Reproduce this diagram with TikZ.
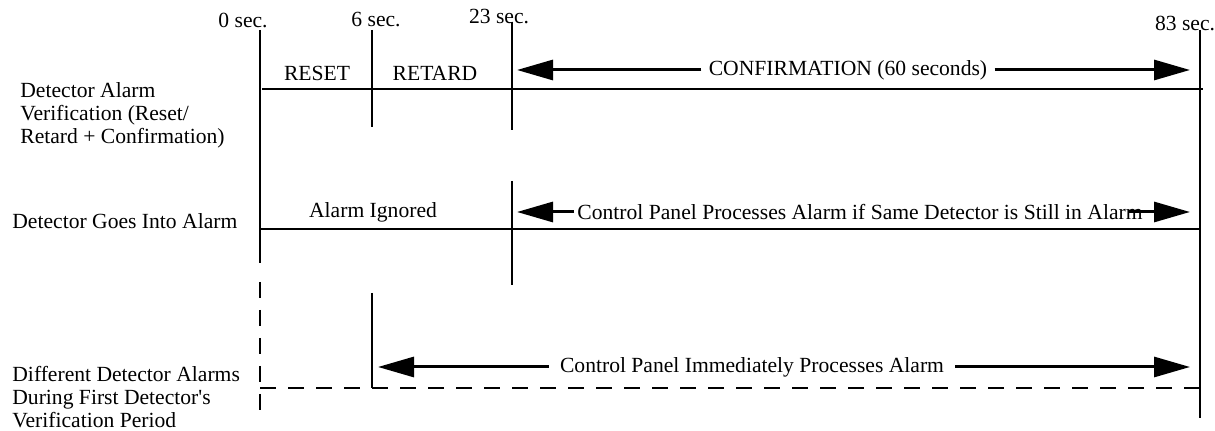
\documentclass[tikz,border=0pt]{standalone}
\usepackage{fontspec}
\setmainfont{Liberation Serif}[Ligatures=TeXOff]
\usetikzlibrary{arrows.meta}

\tikzset{
  timeline/.style={line width=1.1pt},
  dashline/.style={line width=1.1pt, dash pattern=on 8pt off 6pt},
  spanarrow/.style={line width=1.5pt, -{Triangle[length=18pt,width=10pt]}},
  lbl/.style={inner sep=0pt, font=\fontsize{10.8}{11.5}\selectfont},
  rowlbl/.style={lbl, align=left, anchor=west},
  spanlbl/.style={lbl, inner sep=#1},
}

\begin{document}
\begin{tikzpicture}[x=0.5pt, y=-0.5pt]
  \useasboundingbox (0,0) rectangle (1215,431);

  % Time marks
  \node[lbl] (sec0) at (243,20) {0 sec.};
  \node[lbl] (sec6) at (376,20) {6 sec.};
  \node[lbl] (sec23) at (499,17) {23 sec.};
  \node[lbl] (sec83) at (1185,23) {83 sec.};

  % Row labels
  \node[rowlbl] (verif) at (20,115) {Detector Alarm\\Verification (Reset/\\Retard + Confirmation)};
  \node[rowlbl] (goes) at (12,221) {Detector Goes Into Alarm};
  \node[rowlbl] (diff) at (12,397) {Different Detector Alarms\\During First Detector's\\Verification Period};

  % Vertical time lines
  \draw[timeline] (260,30) -- (260,263);
  \draw[dashline] (260,282) -- (260,418);
  \draw[timeline] (372,30) -- (372,127);
  \draw[timeline] (372,293) -- (372,388);
  \draw[timeline] (512,22) -- (512,130);
  \draw[timeline] (512,181) -- (512,285);
  \draw[timeline] (1200,30) -- (1200,418);

  % Horizontal rows
  \draw[timeline] (262,89) -- (1203,89);
  \draw[timeline] (260,229) -- (1200,229);
  \draw[dashline] (260,388) -- (1200,388);

  % Verification row
  \node[lbl] (reset) at (317,73) {RESET};
  \node[lbl] (retard) at (435,73) {RETARD};
  \node[spanlbl=3.5pt] (conf) at (848,70) {CONFIRMATION (60 seconds)};
  \coordinate (confL) at (517,70);
  \coordinate (confR) at (1190,70);
  \draw[spanarrow] (conf) -- (confL);
  \draw[spanarrow] (conf) -- (confR);

  % Same detector row
  \node[lbl, anchor=base] (ignored) at (373,218) {Alarm Ignored};
  \node[spanlbl=1.5pt] (proc) at (860,212) {Control Panel Processes Alarm if Same Detector is Still in Alarm};
  \coordinate (procL) at (517,212);
  \coordinate (procR) at (1190,212);
  \draw[spanarrow] (proc) -- (procL);
  \draw[spanarrow] ([xshift=-9pt]proc.east) -- (procR);

  % Different detector row
  \node[spanlbl=5.5pt] (immed) at (752,367) {Control Panel Immediately Processes Alarm};
  \coordinate (immedL) at (378,367);
  \coordinate (immedR) at (1190,367);
  \draw[spanarrow] (immed) -- (immedL);
  \draw[spanarrow] (immed) -- (immedR);
\end{tikzpicture}
\end{document}
